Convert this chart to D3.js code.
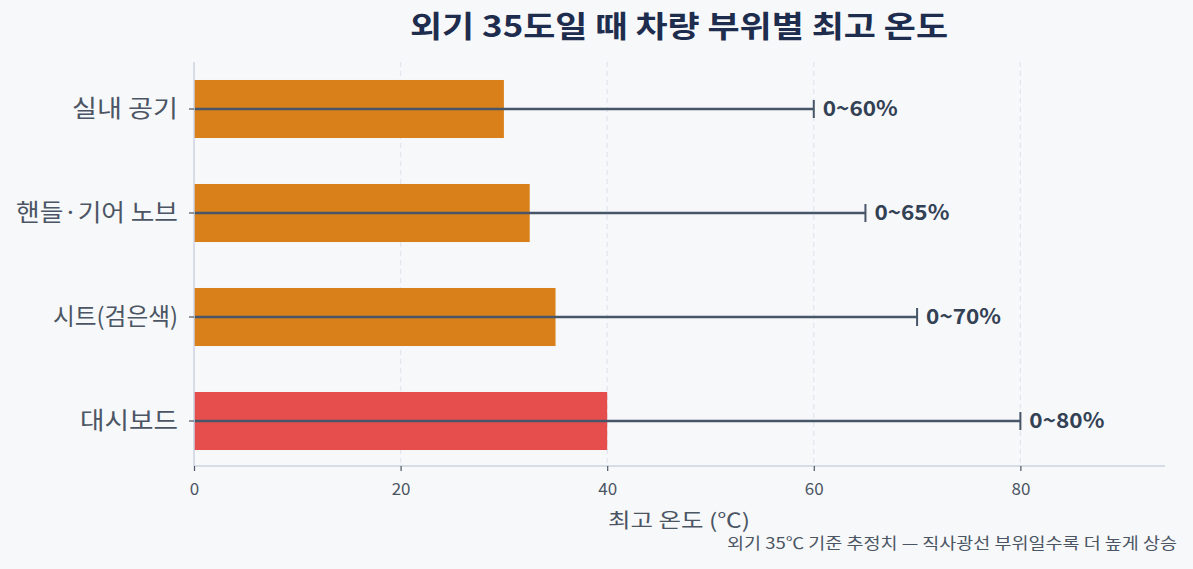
<!DOCTYPE html>
<html><head><meta charset="utf-8">
<script src="https://cdn.jsdelivr.net/npm/d3@7"></script>
<style>
html,body{margin:0;padding:0;background:#f7f8fa;}
svg{display:block;font-family:"Noto Sans CJK KR","Noto Sans",sans-serif;}
</style></head><body>
<svg id="c" width="1193" height="569"></svg>
<script>
const categories = ["실내 공기", "핸들·기어 노브", "시트(검은색)", "대시보드"];
const maxTemps = [30, 32.5, 35, 40];
const rangeHigh = [60, 65, 70, 80];
const rangeLabels = ["0~60%", "0~65%", "0~70%", "0~80%"];
const barColors = ["#d9801a", "#d9801a", "#d9801a", "#e64e4e"];
const xTicks = [0, 20, 40, 60, 80];

const catWidths = {"실내 공기": 106, "핸들·기어 노브": 162, "시트(검은색)": 125, "대시보드": 98};

const svg = d3.select("#c");
const W = 1193, H = 569;
svg.append("rect").attr("width", W).attr("height", H).attr("fill", "#f7f8fa");

const x = d3.scaleLinear().domain([0, 94]).range([194, 1165]);
const y = d3.scaleBand().domain(categories).range([57, 473]).paddingInner(0.442).paddingOuter(0.221);
const axisY = 466, topY = 62;

// grid
svg.append("g").selectAll("line").data(xTicks.filter(d => d > 0)).join("line")
  .attr("x1", d => x(d)).attr("x2", d => x(d)).attr("y1", topY).attr("y2", axisY)
  .attr("stroke", "#e2e6ee").attr("stroke-width", 1.3).attr("stroke-dasharray", "5,4");

// bars
svg.append("g").selectAll("rect").data(categories).join("rect")
  .attr("x", x(0)).attr("y", d => y(d)).attr("width", (d, i) => x(maxTemps[i]) - x(0))
  .attr("height", y.bandwidth()).attr("fill", (d, i) => barColors[i]);

// error bars
const eg = svg.append("g");
categories.forEach((c, i) => {
  const cy = y(c) + y.bandwidth() / 2;
  eg.append("line").attr("x1", x(0)).attr("x2", x(rangeHigh[i])).attr("y1", cy).attr("y2", cy)
    .attr("stroke", "#475569").attr("stroke-width", 2.5);
  eg.append("line").attr("x1", x(rangeHigh[i])).attr("x2", x(rangeHigh[i])).attr("y1", cy - 9).attr("y2", cy + 9)
    .attr("stroke", "#475569").attr("stroke-width", 2);
  eg.append("text").attr("x", x(rangeHigh[i]) + 9).attr("y", cy).attr("dy", "0.35em")
    .attr("font-size", 21).attr("font-weight", "bold").attr("fill", "#334155")
    .attr("textLength", 75).attr("lengthAdjust", "spacingAndGlyphs").text(rangeLabels[i]);
});

// spines
svg.append("line").attr("x1", x(0)).attr("x2", x(0)).attr("y1", topY).attr("y2", axisY)
  .attr("stroke", "#cbd5e1").attr("stroke-width", 1.5);
svg.append("line").attr("x1", x(0)).attr("x2", 1165).attr("y1", axisY).attr("y2", axisY)
  .attr("stroke", "#cbd5e1").attr("stroke-width", 1.5);

// x axis
const xa = svg.append("g").attr("transform", `translate(0,${axisY})`)
  .call(d3.axisBottom(x).tickValues(xTicks).tickSize(5).tickPadding(12));
xa.select(".domain").remove();
xa.selectAll(".tick line").attr("stroke", "#4b5563").attr("stroke-width", 1.2);
xa.selectAll(".tick text").attr("font-size", 17).attr("fill", "#4b5563").attr("font-family", "'Noto Sans CJK KR',sans-serif");

// y axis
const ya = svg.append("g").attr("transform", `translate(${x(0)},0)`)
  .call(d3.axisLeft(y).tickSize(5).tickPadding(11));
ya.select(".domain").remove();
ya.selectAll(".tick line").attr("stroke", "#4b5563").attr("stroke-width", 1.2);
ya.selectAll(".tick text").attr("font-size", 24).attr("fill", "#4b5563").attr("font-family", "'Noto Sans CJK KR',sans-serif")
  .attr("textLength", d => catWidths[d]).attr("lengthAdjust", "spacingAndGlyphs");

// title
svg.append("text").attr("x", 410).attr("y", 37)
  .attr("font-size", 30).attr("font-weight", "bold").attr("fill", "#1e2d4d")
  .attr("textLength", 538).attr("lengthAdjust", "spacingAndGlyphs").text("외기 35도일 때 차량 부위별 최고 온도");
// x label
svg.append("text").attr("x", 608).attr("y", 528)
  .attr("font-size", 20).attr("fill", "#4b5563")
  .attr("textLength", 142).attr("lengthAdjust", "spacingAndGlyphs").text("최고 온도 (℃)");
// footnote
svg.append("text").attr("x", 727).attr("y", 549)
  .attr("font-size", 15.5).attr("fill", "#4b5563")
  .attr("textLength", 450).attr("lengthAdjust", "spacingAndGlyphs").text("외기 35℃ 기준 추정치 — 직사광선 부위일수록 더 높게 상승");
</script>
</body></html>
